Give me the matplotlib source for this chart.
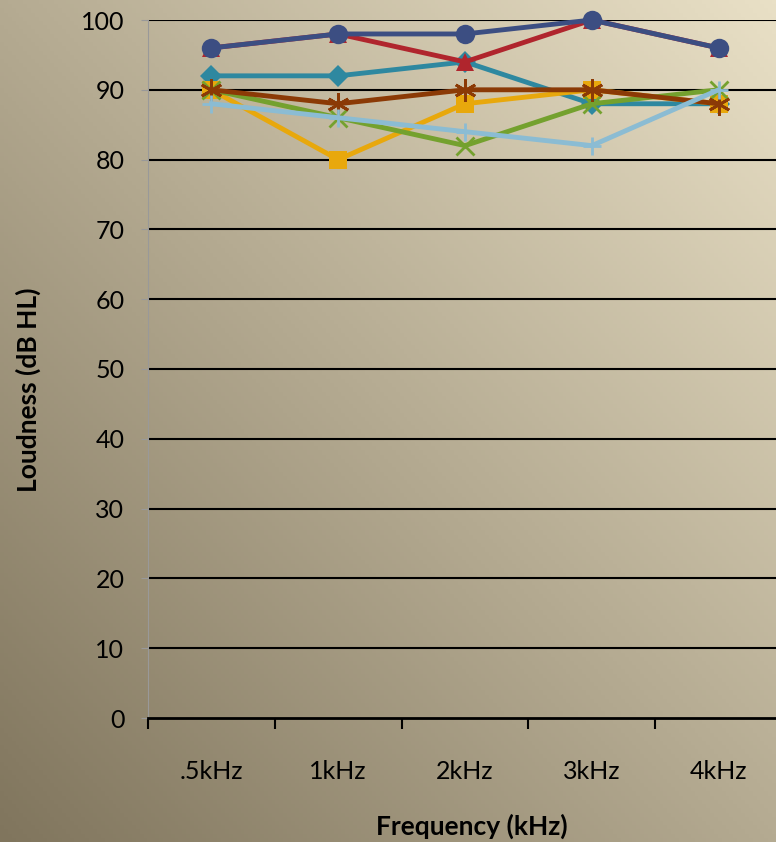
import numpy as np
from matplotlib import pyplot as plt

freqs = [".5kHz", "1kHz", "2kHz", "3kHz", "4kHz"]
teal_diamond = [92, 92, 94, 88, 88]
orange_square = [90, 80, 88, 90, 88]
red_triangle = [96, 98, 94, 100, 96]
green_x = [90, 86, 82, 88, 90]
brown_star = [90, 88, 90, 90, 88]
navy_circle = [96, 98, 98, 100, 96]
blue_plus = [88, 86, 84, 82, 90]

series = [
    (teal_diamond, "#2E88A0", "D", 11),
    (orange_square, "#E8A80C", "s", 13),
    (red_triangle, "#B0252D", "^", 13),
    (green_x, "#74A12E", "x", 13),
    (brown_star, "#8B3A06", (6, 2, 0), 16),
    (navy_circle, "#3C4E82", "o", 14),
    (blue_plus, "#8BBCD3", "+", 13),
]

plt.rcParams['font.family'] = ['Lato', 'DejaVu Sans']

fig = plt.figure(figsize=(7.76, 8.42), dpi=100)

# background gradient, dark bottom-left to light top-right
bg = fig.add_axes([0, 0, 1, 1], zorder=-10)
yy, xx = np.mgrid[0:1:200j, 0:1:200j]
t = (xx + yy) / 2
dark = np.array([0x80, 0x75, 0x5d]) / 255
light = np.array([0xe9, 0xe0, 0xc6]) / 255
img = dark[None, None, :] * (1 - t[..., None]) + light[None, None, :] * t[..., None]
bg.imshow(img, origin="lower", extent=[0, 1, 0, 1], aspect="auto")
bg.axis("off")

ax = fig.add_axes([148 / 776, 1 - 718 / 842, (782 - 148) / 776, (718 - 20) / 842])
ax.patch.set_alpha(0)
x = np.arange(len(freqs))
for vals, col, mk, ms in series:
    kw = dict(mew=2) if mk in ("x", "+") or isinstance(mk, tuple) else dict(mew=0)
    ax.plot(x, vals, color=col, lw=3.5, marker=mk, ms=ms, mec=col, mfc=col, clip_on=False, **kw)

ax.set_ylim(0, 100)
ax.set_xlim(-0.5, 4.5)
ax.set_yticks(range(0, 101, 10))
for yv in range(10, 101, 10):
    ax.axhline(yv, color="black", lw=1.5, zorder=0)
ax.set_xticks(x)
ax.set_xticklabels(freqs, fontsize=18)
ax.set_xticks(np.arange(-0.5, 4.6, 1), minor=True)
ax.tick_params(axis="x", which="major", length=0, pad=30)
ax.tick_params(axis="x", which="minor", length=8, width=1.5, color="black")
ax.tick_params(axis="y", labelsize=18, length=5, color="#999999", pad=12)
for s in ["top", "right"]:
    ax.spines[s].set_visible(False)
ax.spines["left"].set_color("#999999")
ax.spines["bottom"].set_color("black")
ax.spines["bottom"].set_linewidth(2)

fig.text(28 / 776, 1 - 390 / 842, "Loudness (dB HL)", rotation=90, ha="center", va="center",
         fontsize=19, fontweight="bold")
fig.text(472 / 776, 1 - 826 / 842, "Frequency (kHz)", ha="center", va="center",
         fontsize=19, fontweight="bold")

fig.savefig("out.png", dpi=100)
